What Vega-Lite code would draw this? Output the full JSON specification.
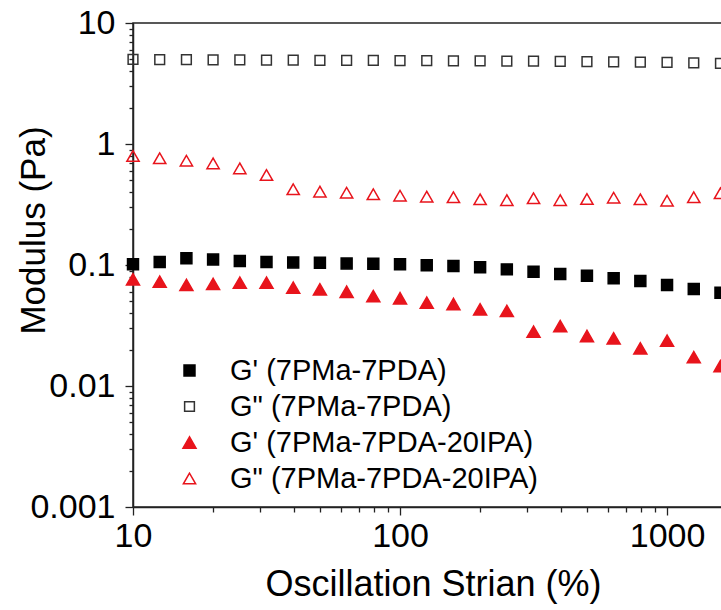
{
  "$schema": "https://vega.github.io/schema/vega-lite/v6.json",
  "width": 590,
  "height": 484,
  "autosize": "none",
  "padding": {"left": 133, "top": 23, "right": 0, "bottom": 103},
  "background": "white",
  "config": {
    "font": "Liberation Sans, Arial, sans-serif",
    "view": {"stroke": "#222222", "strokeWidth": 1.5},
    "axis": {"grid": false, "domainColor": "#222222", "domainWidth": 1.5, "tickColor": "#222222", "labelColor": "#000000", "titleColor": "#000000", "titleFontWeight": "normal", "labelFont": "Liberation Sans", "titleFont": "Liberation Sans"}
  },
  "data": {
    "values": [
      {"strain": 10, "modulus": 0.1014, "series": "G' (7PMa-7PDA)"},
      {"strain": 12.59, "modulus": 0.106, "series": "G' (7PMa-7PDA)"},
      {"strain": 15.85, "modulus": 0.1135, "series": "G' (7PMa-7PDA)"},
      {"strain": 19.95, "modulus": 0.111, "series": "G' (7PMa-7PDA)"},
      {"strain": 25.12, "modulus": 0.108, "series": "G' (7PMa-7PDA)"},
      {"strain": 31.62, "modulus": 0.106, "series": "G' (7PMa-7PDA)"},
      {"strain": 39.81, "modulus": 0.105, "series": "G' (7PMa-7PDA)"},
      {"strain": 50.12, "modulus": 0.1044, "series": "G' (7PMa-7PDA)"},
      {"strain": 63.1, "modulus": 0.103, "series": "G' (7PMa-7PDA)"},
      {"strain": 79.43, "modulus": 0.1025, "series": "G' (7PMa-7PDA)"},
      {"strain": 100, "modulus": 0.1014, "series": "G' (7PMa-7PDA)"},
      {"strain": 125.9, "modulus": 0.0995, "series": "G' (7PMa-7PDA)"},
      {"strain": 158.5, "modulus": 0.098, "series": "G' (7PMa-7PDA)"},
      {"strain": 199.5, "modulus": 0.0957, "series": "G' (7PMa-7PDA)"},
      {"strain": 251.2, "modulus": 0.092, "series": "G' (7PMa-7PDA)"},
      {"strain": 316.2, "modulus": 0.088, "series": "G' (7PMa-7PDA)"},
      {"strain": 398.1, "modulus": 0.0843, "series": "G' (7PMa-7PDA)"},
      {"strain": 501.2, "modulus": 0.0816, "series": "G' (7PMa-7PDA)"},
      {"strain": 631, "modulus": 0.0777, "series": "G' (7PMa-7PDA)"},
      {"strain": 794.3, "modulus": 0.0738, "series": "G' (7PMa-7PDA)"},
      {"strain": 1000, "modulus": 0.0684, "series": "G' (7PMa-7PDA)"},
      {"strain": 1259, "modulus": 0.0634, "series": "G' (7PMa-7PDA)"},
      {"strain": 1585, "modulus": 0.059, "series": "G' (7PMa-7PDA)"},
      {"strain": 10, "modulus": 5.0, "series": "G\" (7PMa-7PDA)"},
      {"strain": 12.59, "modulus": 4.98, "series": "G\" (7PMa-7PDA)"},
      {"strain": 15.85, "modulus": 4.97, "series": "G\" (7PMa-7PDA)"},
      {"strain": 19.95, "modulus": 4.96, "series": "G\" (7PMa-7PDA)"},
      {"strain": 25.12, "modulus": 4.95, "series": "G\" (7PMa-7PDA)"},
      {"strain": 31.62, "modulus": 4.94, "series": "G\" (7PMa-7PDA)"},
      {"strain": 39.81, "modulus": 4.93, "series": "G\" (7PMa-7PDA)"},
      {"strain": 50.12, "modulus": 4.92, "series": "G\" (7PMa-7PDA)"},
      {"strain": 63.1, "modulus": 4.91, "series": "G\" (7PMa-7PDA)"},
      {"strain": 79.43, "modulus": 4.9, "series": "G\" (7PMa-7PDA)"},
      {"strain": 100, "modulus": 4.89, "series": "G\" (7PMa-7PDA)"},
      {"strain": 125.9, "modulus": 4.88, "series": "G\" (7PMa-7PDA)"},
      {"strain": 158.5, "modulus": 4.87, "series": "G\" (7PMa-7PDA)"},
      {"strain": 199.5, "modulus": 4.86, "series": "G\" (7PMa-7PDA)"},
      {"strain": 251.2, "modulus": 4.85, "series": "G\" (7PMa-7PDA)"},
      {"strain": 316.2, "modulus": 4.83, "series": "G\" (7PMa-7PDA)"},
      {"strain": 398.1, "modulus": 4.82, "series": "G\" (7PMa-7PDA)"},
      {"strain": 501.2, "modulus": 4.8, "series": "G\" (7PMa-7PDA)"},
      {"strain": 631, "modulus": 4.78, "series": "G\" (7PMa-7PDA)"},
      {"strain": 794.3, "modulus": 4.75, "series": "G\" (7PMa-7PDA)"},
      {"strain": 1000, "modulus": 4.72, "series": "G\" (7PMa-7PDA)"},
      {"strain": 1259, "modulus": 4.68, "series": "G\" (7PMa-7PDA)"},
      {"strain": 1585, "modulus": 4.64, "series": "G\" (7PMa-7PDA)"},
      {"strain": 10, "modulus": 0.0762, "series": "G' (7PMa-7PDA-20IPA)"},
      {"strain": 12.59, "modulus": 0.0728, "series": "G' (7PMa-7PDA-20IPA)"},
      {"strain": 15.85, "modulus": 0.0684, "series": "G' (7PMa-7PDA-20IPA)"},
      {"strain": 19.95, "modulus": 0.0697, "series": "G' (7PMa-7PDA-20IPA)"},
      {"strain": 25.12, "modulus": 0.0714, "series": "G' (7PMa-7PDA-20IPA)"},
      {"strain": 31.62, "modulus": 0.0714, "series": "G' (7PMa-7PDA-20IPA)"},
      {"strain": 39.81, "modulus": 0.0649, "series": "G' (7PMa-7PDA-20IPA)"},
      {"strain": 50.12, "modulus": 0.0629, "series": "G' (7PMa-7PDA-20IPA)"},
      {"strain": 63.1, "modulus": 0.0601, "series": "G' (7PMa-7PDA-20IPA)"},
      {"strain": 79.43, "modulus": 0.0554, "series": "G' (7PMa-7PDA-20IPA)"},
      {"strain": 100, "modulus": 0.0531, "series": "G' (7PMa-7PDA-20IPA)"},
      {"strain": 125.9, "modulus": 0.0488, "series": "G' (7PMa-7PDA-20IPA)"},
      {"strain": 158.5, "modulus": 0.0476, "series": "G' (7PMa-7PDA-20IPA)"},
      {"strain": 199.5, "modulus": 0.043, "series": "G' (7PMa-7PDA-20IPA)"},
      {"strain": 251.2, "modulus": 0.0417, "series": "G' (7PMa-7PDA-20IPA)"},
      {"strain": 316.2, "modulus": 0.0281, "series": "G' (7PMa-7PDA-20IPA)"},
      {"strain": 398.1, "modulus": 0.0313, "series": "G' (7PMa-7PDA-20IPA)"},
      {"strain": 501.2, "modulus": 0.0259, "series": "G' (7PMa-7PDA-20IPA)"},
      {"strain": 631, "modulus": 0.0248, "series": "G' (7PMa-7PDA-20IPA)"},
      {"strain": 794.3, "modulus": 0.0205, "series": "G' (7PMa-7PDA-20IPA)"},
      {"strain": 1000, "modulus": 0.0237, "series": "G' (7PMa-7PDA-20IPA)"},
      {"strain": 1259, "modulus": 0.0173, "series": "G' (7PMa-7PDA-20IPA)"},
      {"strain": 1585, "modulus": 0.0146, "series": "G' (7PMa-7PDA-20IPA)"},
      {"strain": 10, "modulus": 0.796, "series": "G\" (7PMa-7PDA-20IPA)"},
      {"strain": 12.59, "modulus": 0.762, "series": "G\" (7PMa-7PDA-20IPA)"},
      {"strain": 15.85, "modulus": 0.728, "series": "G\" (7PMa-7PDA-20IPA)"},
      {"strain": 19.95, "modulus": 0.692, "series": "G\" (7PMa-7PDA-20IPA)"},
      {"strain": 25.12, "modulus": 0.629, "series": "G\" (7PMa-7PDA-20IPA)"},
      {"strain": 31.62, "modulus": 0.554, "series": "G\" (7PMa-7PDA-20IPA)"},
      {"strain": 39.81, "modulus": 0.423, "series": "G\" (7PMa-7PDA-20IPA)"},
      {"strain": 50.12, "modulus": 0.404, "series": "G\" (7PMa-7PDA-20IPA)"},
      {"strain": 63.1, "modulus": 0.396, "series": "G\" (7PMa-7PDA-20IPA)"},
      {"strain": 79.43, "modulus": 0.384, "series": "G\" (7PMa-7PDA-20IPA)"},
      {"strain": 100, "modulus": 0.374, "series": "G\" (7PMa-7PDA-20IPA)"},
      {"strain": 125.9, "modulus": 0.367, "series": "G\" (7PMa-7PDA-20IPA)"},
      {"strain": 158.5, "modulus": 0.363, "series": "G\" (7PMa-7PDA-20IPA)"},
      {"strain": 199.5, "modulus": 0.349, "series": "G\" (7PMa-7PDA-20IPA)"},
      {"strain": 251.2, "modulus": 0.344, "series": "G\" (7PMa-7PDA-20IPA)"},
      {"strain": 316.2, "modulus": 0.356, "series": "G\" (7PMa-7PDA-20IPA)"},
      {"strain": 398.1, "modulus": 0.344, "series": "G\" (7PMa-7PDA-20IPA)"},
      {"strain": 501.2, "modulus": 0.351, "series": "G\" (7PMa-7PDA-20IPA)"},
      {"strain": 631, "modulus": 0.36, "series": "G\" (7PMa-7PDA-20IPA)"},
      {"strain": 794.3, "modulus": 0.349, "series": "G\" (7PMa-7PDA-20IPA)"},
      {"strain": 1000, "modulus": 0.34, "series": "G\" (7PMa-7PDA-20IPA)"},
      {"strain": 1259, "modulus": 0.363, "series": "G\" (7PMa-7PDA-20IPA)"},
      {"strain": 1585, "modulus": 0.392, "series": "G\" (7PMa-7PDA-20IPA)"}
    ]
  },
  "mark": {"type": "point", "filled": true, "opacity": 1, "strokeWidth": 1.5},
  "encoding": {
    "x": {"field": "strain", "type": "quantitative", "scale": {"type": "log", "domain": [10, 1620], "nice": false},
      "axis": {"orient": "bottom", "title": "Oscillation Strian (%)",
        "values": [10, 20, 30, 40, 50, 60, 70, 80, 90, 100, 200, 300, 400, 500, 600, 700, 800, 900, 1000],
        "format": "d",
        "labelExpr": "abs(log(datum.value)/LN10 - round(log(datum.value)/LN10)) < 0.000001 ? datum.label : ''",
        "tickSize": {"condition": {"test": "abs(log(datum.value)/LN10 - round(log(datum.value)/LN10)) < 0.000001", "value": 8}, "value": 5},
        "tickWidth": 1.3, "labelFontSize": 34, "labelPadding": 4, "labelFlush": false, "labelOverlap": false,
        "titleFontSize": 36, "titleX": 300, "titleY": 88, "titleBaseline": "alphabetic", "titleAlign": "center"}},
    "y": {"field": "modulus", "type": "quantitative", "scale": {"type": "log", "domain": [0.001, 10], "nice": false},
      "axis": {"orient": "left", "title": "Modulus (Pa)",
        "values": [0.001, 0.002, 0.003, 0.004, 0.005, 0.006, 0.007, 0.008, 0.009, 0.01, 0.02, 0.03, 0.04, 0.05, 0.06, 0.07, 0.08, 0.09, 0.1, 0.2, 0.3, 0.4, 0.5, 0.6, 0.7, 0.8, 0.9, 1, 2, 3, 4, 5, 6, 7, 8, 9, 10],
        "format": "~g",
        "labelExpr": "abs(log(datum.value)/LN10 - round(log(datum.value)/LN10)) < 0.000001 ? datum.label : ''",
        "tickSize": {"condition": {"test": "abs(log(datum.value)/LN10 - round(log(datum.value)/LN10)) < 0.000001", "value": 8}, "value": 4},
        "tickWidth": 1.3, "labelFontSize": 34, "labelPadding": 10, "labelFlush": false, "labelOverlap": false,
        "titleFontSize": 35, "titleX": -100, "titleY": 207, "titleAngle": -90, "titleBaseline": "middle", "titleAlign": "center"}},
    "shape": {"field": "series", "type": "ordinal",
      "scale": {"domain": ["G' (7PMa-7PDA)", "G\" (7PMa-7PDA)", "G' (7PMa-7PDA-20IPA)", "G\" (7PMa-7PDA-20IPA)"],
        "range": ["square", "square", "triangle-up", "triangle-up"]},
      "legend": {"orient": "none", "legendX": 42, "legendY": 333, "title": null, "labelFontSize": 29, "labelFont": "Liberation Sans",
        "labelOffset": 26, "labelLimit": 0, "rowPadding": 6, "padding": 0, "symbolStrokeWidth": 1.5, "labelColor": "#000000"}},
    "fill": {"field": "series", "type": "ordinal",
      "scale": {"domain": ["G' (7PMa-7PDA)", "G\" (7PMa-7PDA)", "G' (7PMa-7PDA-20IPA)", "G\" (7PMa-7PDA-20IPA)"],
        "range": ["#000000", "transparent", "#e8141c", "transparent"]}},
    "stroke": {"field": "series", "type": "ordinal",
      "scale": {"domain": ["G' (7PMa-7PDA)", "G\" (7PMa-7PDA)", "G' (7PMa-7PDA-20IPA)", "G\" (7PMa-7PDA-20IPA)"],
        "range": ["#000000", "#333333", "#e8141c", "#e8141c"]}},
    "size": {"field": "series", "type": "ordinal",
      "scale": {"type": "ordinal", "domain": ["G' (7PMa-7PDA)", "G\" (7PMa-7PDA)", "G' (7PMa-7PDA-20IPA)", "G\" (7PMa-7PDA-20IPA)"],
        "range": [120, 95, 170, 150]}}
  }
}
